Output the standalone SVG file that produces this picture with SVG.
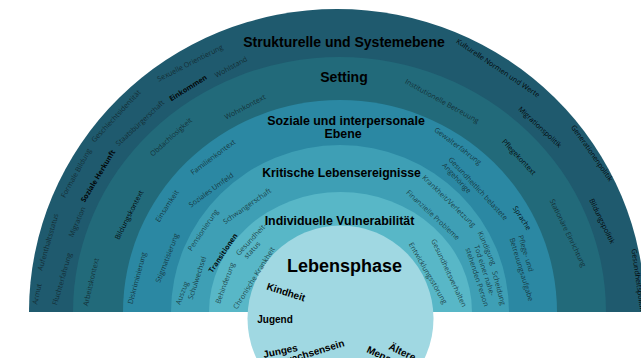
<svg xmlns="http://www.w3.org/2000/svg" width="641" height="358" viewBox="0 0 641 358">
<style>
.t{font-family:"Liberation Sans",Arial,sans-serif;font-weight:bold;fill:#000;text-anchor:middle}
.l{font-family:"Open Sans","Noto Sans",sans-serif;font-size:7.2px;fill:#0f1f25;fill-opacity:0.78;text-anchor:middle}
.d{fill:#000;fill-opacity:0.92}
.b{font-weight:bold}
.s{text-anchor:start}
.p{font-family:"Liberation Sans",Arial,sans-serif;font-weight:bold;font-size:10px;fill:#000}
</style>
<rect width="641" height="358" fill="#fff"/>
<g id="ring-strukturelle"><path d="M29,312 A308,303 0 0 1 645,312 Z" fill="#1f5a6e"/></g>
<g id="ring-setting"><path d="M73,312 A266.5,255 0 0 1 606,312 Z" fill="#226a7a"/></g>
<g id="ring-soziale"><path d="M123,312 A217,212 0 0 1 557,312 Z" fill="#2b88a3"/></g>
<g id="ring-kritische"><path d="M171,312 A169,167 0 0 1 509,312 Z" fill="#3e9fb5"/></g>
<g id="ring-individuelle"><path d="M209,312 A131.5,120 0 0 1 472,312 Z" fill="#58b7c7"/></g>
<g id="lebensphase"><circle cx="340.5" cy="318.5" r="93" fill="#a0d8e2"/></g>

<g id="titles">
<text class="t" x="344" y="47" font-size="14">Strukturelle und Systemebene</text>
<text class="t" x="344" y="82" font-size="14">Setting</text>
<text class="t" x="346" y="125" font-size="12.4">Soziale und interpersonale</text>
<text class="t" x="343" y="138" font-size="12.4">Ebene</text>
<text class="t" x="341.5" y="177" font-size="12.2">Kritische Lebensereignisse</text>
<text class="t" x="339.5" y="225" font-size="12.4">Individuelle Vulnerabilität</text>
<text class="t" x="344.5" y="272" font-size="18">Lebensphase</text>
</g>

<g id="phases">
<text class="p" text-anchor="middle" dy="0.35em" transform="translate(286,292) rotate(18)">Kindheit</text>
<text class="p" text-anchor="middle" x="275" y="323">Jugend</text>
<text class="p" transform="translate(264,358) rotate(-12)">Junges</text>
<text class="p" text-anchor="end" transform="translate(345,346) rotate(-17)">Erwachsensein</text>
<text class="p" transform="translate(388,349) rotate(25)">Ältere</text>
<text class="p" transform="translate(366,352) rotate(25)">Menschen</text>
</g>

<g id="labels-strukturelle">
<text class="l" dy="0.35em" transform="translate(190,63) rotate(-27)">Sexuelle Orientierung</text>
<text class="l" dy="0.35em" transform="translate(231,67) rotate(-29)">Wohlstand</text>
<text class="l d b" dy="0.35em" transform="translate(188,88) rotate(-32)">Einkommen</text>
<text class="l" dy="0.35em" transform="translate(116,116) rotate(-47)">Geschlechtsidentität</text>
<text class="l" dy="0.35em" transform="translate(140,123) rotate(-43)">Staatsbürgerschaft</text>
<text class="l d b" dy="0.35em" transform="translate(98,176) rotate(-59)">Soziale Herkunft</text>
<text class="l" dy="0.35em" transform="translate(76,173) rotate(-61)">Formale Bildung</text>
<text class="l" dy="0.35em" transform="translate(77,222) rotate(-67)">Migration</text>
<text class="l" dy="0.35em" transform="translate(48,242) rotate(-74)">Aufenthaltsstatus</text>
<text class="l" dy="0.35em" transform="translate(62,279) rotate(-74)">Fluchterfahrung</text>
<text class="l" dy="0.35em" transform="translate(37,294) rotate(-78)">Armut</text>
<text class="l d" dy="0.35em" transform="translate(498,68) rotate(34)">Kulturelle Normen und Werte</text>
<text class="l d" dy="0.35em" transform="translate(540,127) rotate(43)">Migrationspolitik</text>
<text class="l d" dy="0.35em" transform="translate(592,153) rotate(55)">Generationenpolitik</text>
<text class="l d" dy="0.35em" transform="translate(602,221) rotate(64)">Bildungspolitik</text>
<text class="l d s" dy="0.35em" transform="translate(634,249) rotate(82)">Gesundheitspolitik</text>
</g>

<g id="labels-setting">
<text class="l" dy="0.35em" transform="translate(245,107) rotate(-28)">Wohnkontext</text>
<text class="l" dy="0.35em" transform="translate(171,137) rotate(-42)">Obdachlosigkeit</text>
<text class="l d" dy="0.35em" transform="translate(129,215) rotate(-63)">Bildungskontext</text>
<text class="l" dy="0.35em" transform="translate(91,282) rotate(-77)">Arbeitskontext</text>
<text class="l" dy="0.35em" transform="translate(442,101) rotate(29)">Institutionelle Betreuung</text>
<text class="l d" dy="0.35em" transform="translate(519,157) rotate(47)">Pflegekontext</text>
<text class="l" dy="0.35em" transform="translate(568,233) rotate(64)">Stationäre Einrichtung</text>
</g>

<g id="labels-soziale">
<text class="l" dy="0.35em" transform="translate(213,157) rotate(-37)">Familienkontext</text>
<text class="l" dy="0.35em" transform="translate(211,190) rotate(-36)">Soziales Umfeld</text>
<text class="l" dy="0.35em" transform="translate(167,206) rotate(-57)">Einsamkeit</text>
<text class="l" dy="0.35em" transform="translate(167,258) rotate(-69)">Stigmatisierung</text>
<text class="l" dy="0.35em" transform="translate(137,278) rotate(-75)">Diskriminierung</text>
<text class="l" dy="0.35em" transform="translate(458,146) rotate(37)">Gewalterfahrung</text>
<text class="l s" transform="translate(448,160) rotate(47)"><tspan x="0" y="0">Gesundheitlich belastete</tspan><tspan x="0" y="8.5">Angehörige</tspan></text>
<text class="l d" dy="0.35em" transform="translate(522,218) rotate(57)">Sprache</text>
<text class="l s" transform="translate(518,236) rotate(73)"><tspan x="0" y="0">Pflege- und</tspan><tspan x="0" y="9">Betreuungsaufgabe</tspan></text>
</g>

<g id="labels-kritische">
<text class="l" dy="0.35em" transform="translate(247,206) rotate(-35)">Schwangerschaft</text>
<text class="l" dy="0.35em" transform="translate(203,230) rotate(-56)">Pensionierung</text>
<text class="l d b" font-size="9" dy="0.35em" transform="translate(223,253) rotate(-56)">Transitionen</text>
<text class="l" dy="0.35em" transform="translate(197,278) rotate(-72)">Schulwechsel</text>
<text class="l" dy="0.35em" transform="translate(182,293) rotate(-70)">Auszug</text>
<text class="l" dy="0.35em" transform="translate(449,201) rotate(44)">Krankheit/Verletzung</text>
<text class="l" dy="0.35em" transform="translate(433,215) rotate(43)">Finanzielle Probleme</text>
<text class="l" dy="0.35em" transform="translate(487,248) rotate(67)">Kündigung</text>
<text class="l s" transform="translate(474,246) rotate(72)"><tspan x="0" y="0">Tod einer nahe-</tspan><tspan x="0" y="9">stehenden Person</tspan></text>
<text class="l" dy="0.35em" transform="translate(499,288) rotate(75)">Scheidung</text>
</g>

<g id="labels-individuelle">
<text class="l s" transform="translate(239,256) rotate(-47)"><tspan x="0" y="0">Gesundheit-</tspan><tspan x="3" y="8">status</tspan></text>
<text class="l" dy="0.35em" transform="translate(225,283) rotate(-70)">Behinderung</text>
<text class="l" dy="0.35em" transform="translate(254,278) rotate(-58)">Chronische Krankheit</text>
<text class="l" dy="0.35em" transform="translate(428,273) rotate(60)">Entwicklungsstörung</text>
<text class="l" dy="0.35em" transform="translate(449,273) rotate(65)">Gesundheitsverhalten</text>
</g>
</svg>
